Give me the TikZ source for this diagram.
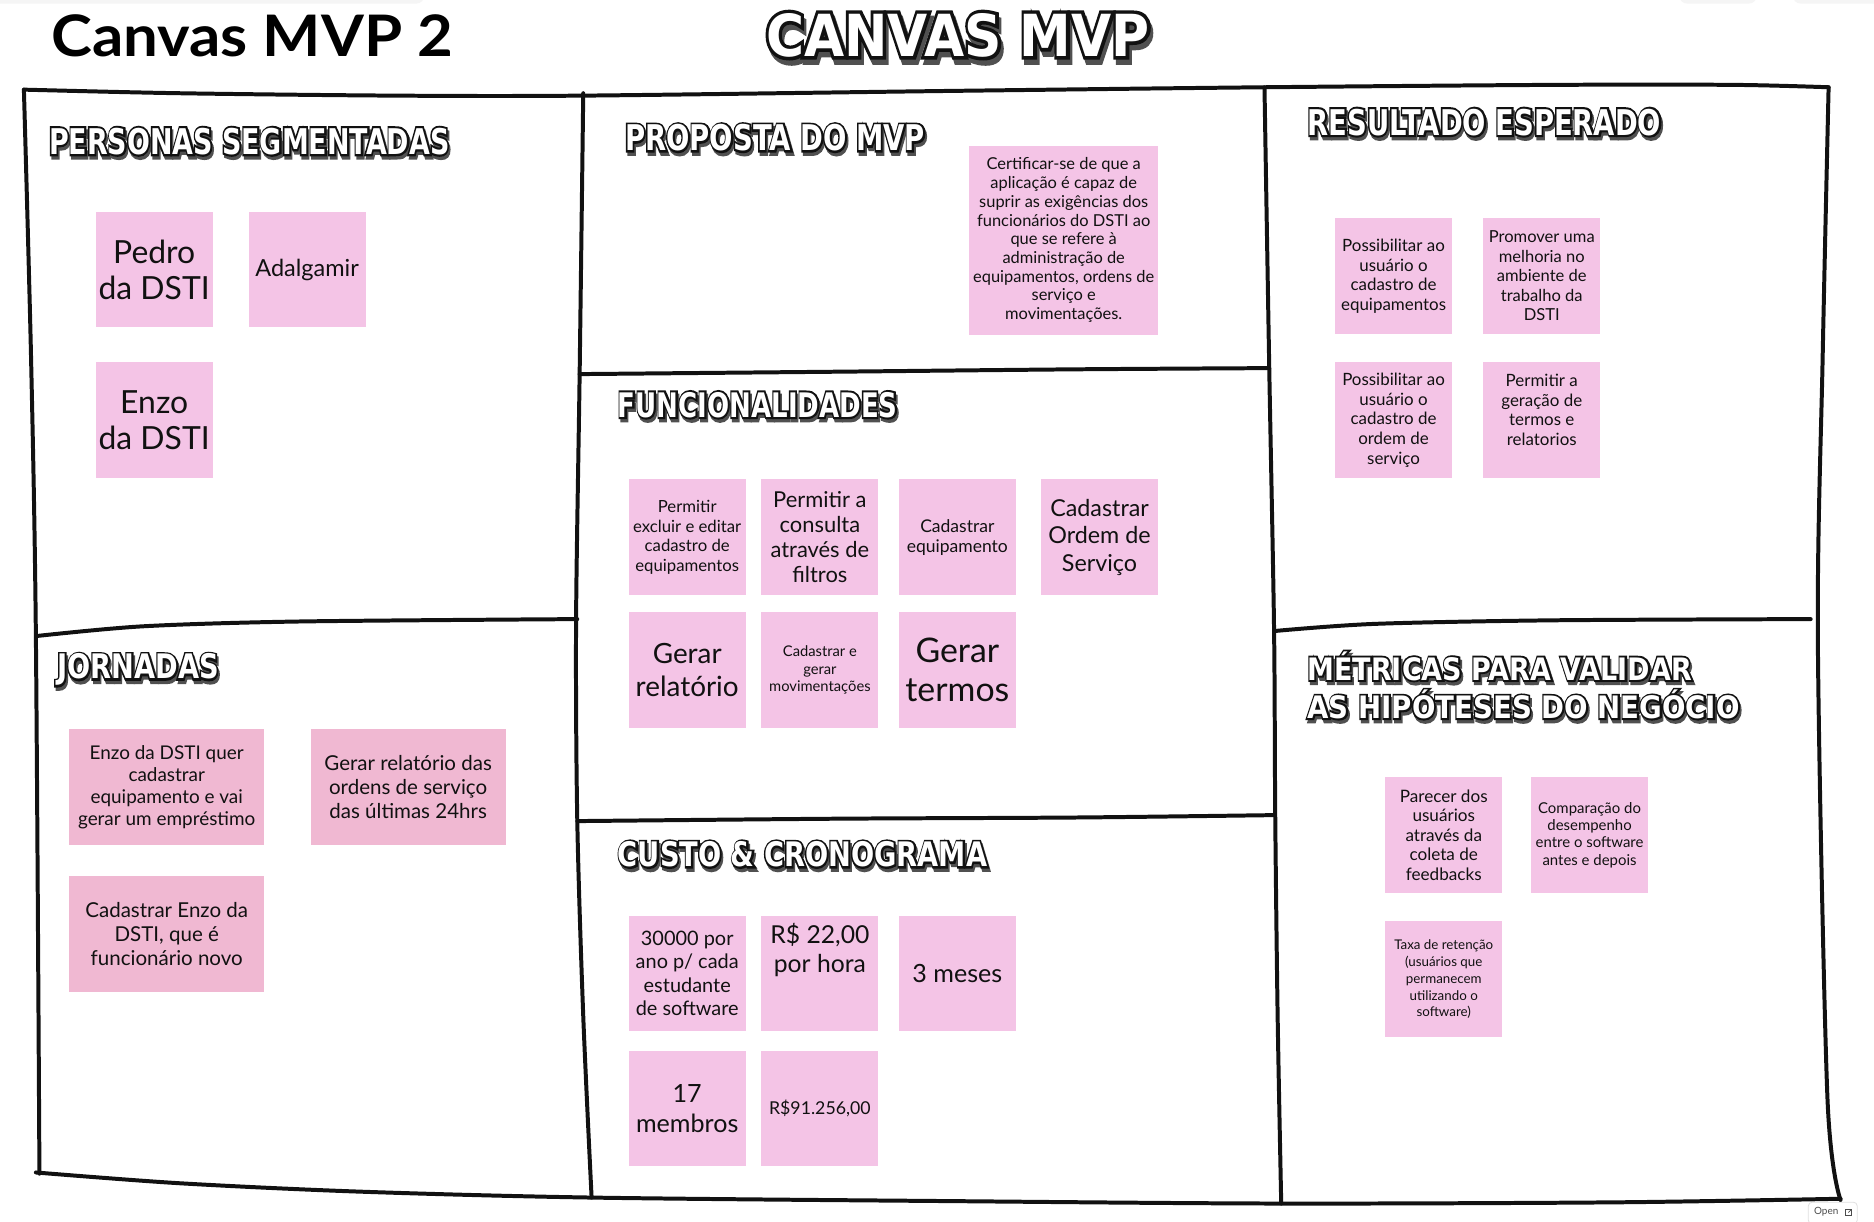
\documentclass[tikz,border=0pt]{standalone}
\usepackage{fontspec}
\usepackage{graphicx}
\setmainfont{Lato}
\newfontfamily\comicfill{DejaVu Sans Bold}
\newfontfamily\comicline{DejaVu Sans Bold}[FakeBold=12]
\definecolor{notepink}{RGB}{244,196,230}
\definecolor{jornpink}{RGB}{240,184,210}
\definecolor{comicshadow}{RGB}{80,80,80}
\definecolor{inkblack}{RGB}{17,17,17}
\tikzset{
  frameline/.style={line width=2pt, line cap=round, line join=round, draw=inkblack},
  sticky/.style={rectangle, fill=notepink, minimum width=58.8pt, minimum height=58.2pt, inner sep=0pt},
  widesticky/.style={fill=jornpink, minimum width=97.8pt},
  bigsticky/.style={minimum width=94.8pt, minimum height=94.8pt},
  stickytext/.style={align=center, inner sep=0pt, text=inkblack},
  comicnode/.style={anchor=north west, inner sep=0pt, outer sep=0pt},
}
\newcommand\fs[2]{\fontsize{#1}{#2}\selectfont}
% name, x, y, note style, font, dy, text
\newcommand\sticky[7]{%
  \node[sticky,#4] (#1) at (#2,#3) {};
  \node[stickytext,font=#5] (#1-text) at (#2,#3+#6) {#7};
}
% name, x, y, width, height, shadow offset, text
\newcommand\comichead[7]{%
  \begin{scope}[shift={(#2,#3)}]
    \node[comicnode,text=comicshadow] (#1-shadow) at ({0.8*#6},{1.7*#6}) {\resizebox{#4}{#5}{\comicline #7}};
    \node[comicnode,text=inkblack] (#1-line) at (0,0) {\resizebox{#4}{#5}{\comicline #7}};
    \node[comicnode,text=white] (#1) at (0,0) {\resizebox{#4}{#5}{\comicfill #7}};
  \end{scope}}
\begin{document}
\begin{tikzpicture}[x=0.6pt,y=-0.6pt]
\fill[white] (0,0) rectangle (1568,1022);
\useasboundingbox (0,0) rectangle (1568,1022);
% faint UI bars at the top edge
\fill[black!4, rounded corners=4pt] (-10,-12) rectangle (355,3);
\fill[black!4, rounded corners=4pt] (1405,-12) rectangle (1470,3);
\fill[black!4, rounded corners=4pt] (1500,-12) rectangle (1590,3);

% titles
\node[comicnode] (title) at (43,12) {\resizebox{201.6pt}{21pt}{\bfseries Canvas MVP 2}};
\comichead{canvasmvp}{641}{11}{192.6pt}{21.6pt}{2.6}{CANVAS MVP}

% frame
\draw[frameline] plot[smooth] coordinates {(20,75) (150,78) (330,80) (488,80) (800,76) (1058,73) (1300,71) (1450,71) (1530,73)};
\draw[frameline] plot[smooth] coordinates {(20,75) (26,300) (30,530) (33,982)};
\draw[frameline] plot[smooth] coordinates {(1530,73) (1525,300) (1521,535) (1529,918) (1540,1004)};
\draw[frameline] plot[smooth] coordinates {(30,981) (150,990) (300,997) (495,1002) (800,1005) (1072,1007) (1350,1006) (1540,1003)};
\draw[frameline] plot[smooth] coordinates {(488,78) (485,312) (482,520) (483,686) (488,850) (495,1002)};
\draw[frameline] plot[smooth] coordinates {(1058,73) (1062,309) (1066,526) (1067,683) (1069,850) (1072,1007)};
\draw[frameline] plot[smooth] coordinates {(32,532) (120,524) (250,520) (483,518)};
\draw[frameline] plot[smooth] coordinates {(485,313) (700,311) (900,309) (1062,308)};
\draw[frameline] plot[smooth] coordinates {(483,687) (700,685) (900,684) (1066,682)};
\draw[frameline] plot[smooth] coordinates {(1066,528) (1150,522) (1300,519) (1515,518)};

% section headings
\comichead{hpersonas}{41}{107}{201pt}{13.2pt}{1.6}{PERSONAS SEGMENTADAS}
\comichead{hproposta}{523}{104}{150.6pt}{13.2pt}{1.6}{PROPOSTA DO MVP}
\comichead{hresultado}{1094}{91}{177.6pt}{13.2pt}{1.6}{RESULTADO ESPERADO}
\comichead{hfunc}{517}{328}{140.4pt}{12.6pt}{1.6}{FUNCIONALIDADES}
\comichead{hjornadas}{48}{547}{81pt}{12.6pt}{1.6}{JORNADAS}
\comichead{hcusto}{517}{704}{185.4pt}{12.6pt}{1.6}{CUSTO \& CRONOGRAMA}
\comichead{hmetricasa}{1094}{545}{193pt}{14.4pt}{1.6}{MÉTRICAS PARA VALIDAR}
\comichead{hmetricasb}{1094}{577}{217pt}{14.4pt}{1.6}{AS HIPÓTESES DO NEGÓCIO}

% personas
\sticky{pedro}{129}{225.5}{}{\fs{16}{18}}{0}{Pedro\\da DSTI}
\sticky{adal}{257}{225.5}{}{\fs{11.8}{14}}{0}{Adalgamir}
\sticky{enzo}{129}{351.5}{}{\fs{16}{18}}{0}{Enzo\\da DSTI}

% proposta
\sticky{cert}{890}{201}{bigsticky}{\fs{8.25}{9.4}}{0}{Certificar-se de que a\\aplicação é capaz de\\suprir as exigências dos\\funcionários do DSTI ao\\que se refere à\\administração de\\equipamentos, ordens de\\serviço e\\movimentações.}

% funcionalidades
\sticky{f1}{575}{449.5}{}{\fs{8.4}{9.9}}{0}{Permitir\\excluir e editar\\cadastro de\\equipamentos}
\sticky{f2}{686}{449.5}{}{\fs{11}{12.6}}{0}{Permitir a\\consulta\\através de\\filtros}
\sticky{f3}{801}{449.5}{}{\fs{8.8}{10.2}}{0}{Cadastrar\\equipamento}
\sticky{f4}{920}{449.5}{}{\fs{11.7}{13.8}}{0}{Cadastrar\\Ordem de\\Serviço}
\sticky{f5}{575}{560.5}{}{\fs{14}{16.8}}{0}{Gerar\\relatório}
\sticky{f6}{686}{560.5}{}{\fs{7.4}{9}}{0}{Cadastrar e\\gerar\\movimentações}
\sticky{f7}{801}{560.5}{}{\fs{17}{19.8}}{0}{Gerar\\termos}

% resultado esperado
\sticky{r1}{1166}{231}{}{\fs{8.5}{9.9}}{0}{Possibilitar ao\\usuário o\\cadastro de\\equipamentos}
\sticky{r2}{1290}{231}{}{\fs{8.3}{9.8}}{0}{Promover uma\\melhoria no\\ambiente de\\trabalho da\\DSTI}
\sticky{r3}{1166}{351.5}{}{\fs{8.5}{9.9}}{0}{Possibilitar ao\\usuário o\\cadastro de\\ordem de\\serviço}
\sticky{r4}{1290}{351.5}{}{\fs{8.5}{9.9}}{-8.5}{Permitir a\\geração de\\termos e\\relatorios}

% jornadas
\sticky{j1}{139.5}{658.5}{widesticky}{\fs{9.5}{11.1}}{0}{Enzo da DSTI quer\\cadastrar\\equipamento e vai\\gerar um empréstimo}
\sticky{j2}{341.5}{658.5}{widesticky}{\fs{10.3}{12}}{0}{Gerar relatório das\\ordens de serviço\\das últimas 24hrs}
\sticky{j3}{139.5}{781.5}{widesticky}{\fs{10.3}{12}}{0}{Cadastrar Enzo da\\DSTI, que é\\funcionário novo}

% custo e cronograma
\sticky{c1}{575}{814.5}{}{\fs{10}{11.7}}{0}{30000 por\\ano p/ cada\\estudante\\de software}
\sticky{c2}{686}{814.5}{}{\fs{12.4}{14.4}}{-19.5}{R\$ 22,00\\por hora}
\sticky{c3}{801}{814.5}{}{\fs{12.6}{15}}{0}{3 meses}
\sticky{c4}{575}{927.5}{}{\fs{12.6}{15}}{0}{17\\membros}
\sticky{c5}{686}{927.5}{}{\fs{8.9}{10.5}}{0}{R\$91.256,00}

% metricas
\sticky{m1}{1208}{698.5}{}{\fs{8.6}{9.8}}{0}{Parecer dos\\usuários\\através da\\coleta de\\feedbacks}
\sticky{m2}{1330}{698.5}{}{\fs{7.5}{8.7}}{0}{Comparação do\\desempenho\\entre o software\\antes e depois}
\sticky{m3}{1208}{819.5}{}{\fs{6.7}{8.4}}{0}{Taxa de retenção\\(usuários que\\permanecem\\utilizando o\\software)}

% "Open" button
\node[draw=black!12, fill=white, rounded corners=2pt, minimum width=24.6pt, minimum height=11pt, inner sep=0pt] (openbtn) at (1533.5,1015) {};
\node[font=\fs{5}{6}, text=black!70, inner sep=0pt] (opentext) at (1528,1014) {Open};
\coordinate (iconc) at (1546.5,1014.5);
\draw[black!70, line width=0.35pt] ([shift={(-2.5,-2.5)}]iconc) rectangle ([shift={(2.5,2.5)}]iconc);
\draw[black!70, line width=0.35pt] (iconc) -- ([shift={(2.5,-2.5)}]iconc);
\end{tikzpicture}
\end{document}
